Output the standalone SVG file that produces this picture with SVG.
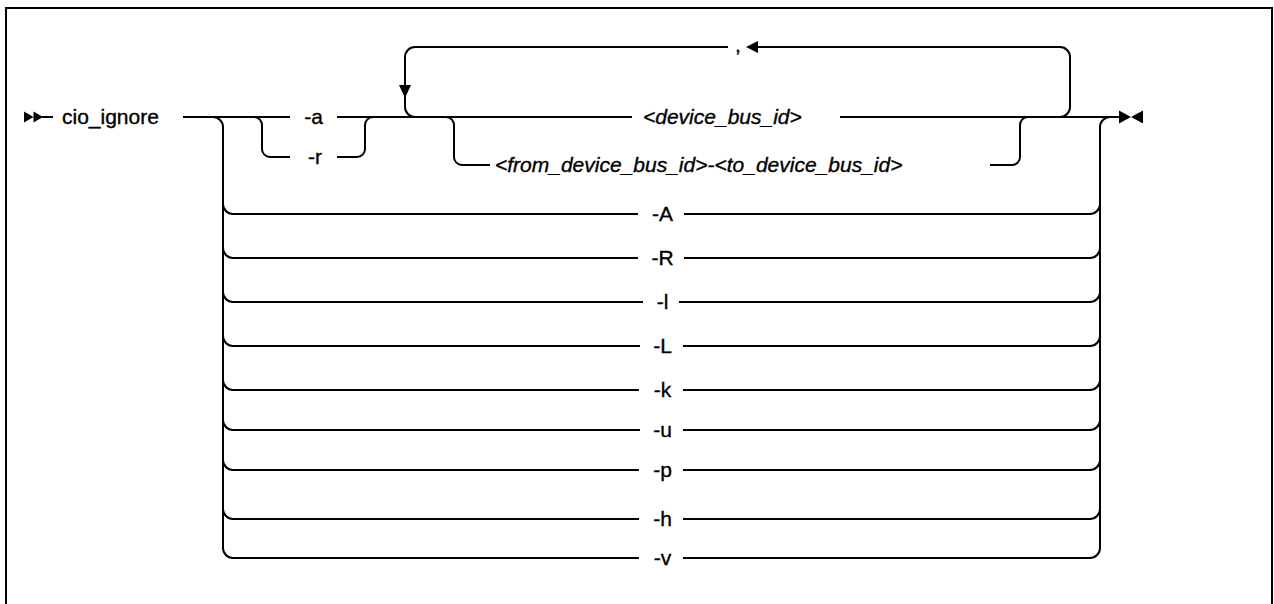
<svg xmlns="http://www.w3.org/2000/svg" width="1274" height="604" viewBox="0 0 1274 604">
<style>
.ln{fill:none;stroke:#000;stroke-width:2}
.t{font-family:"Liberation Sans",Arial,sans-serif;font-size:21px;fill:#000;stroke:#000;stroke-width:0.35}
.it{font-style:italic}
.m{text-anchor:middle}
.hd{fill:#000;stroke:none}
</style>
<rect width="1274" height="604" fill="#fff"/>
<path class="ln" d="M6 604 V8 H1272 V604"/>
<g id="connectors">
  <!-- start / end symbols -->
  <path class="hd" d="M24 111.5 L33.5 117 L24 122.5 Z M33.5 111.5 L43 117 L33.5 122.5 Z"/>
  <path class="ln" d="M42 117 H53"/>
  <path class="hd" d="M1119 110.5 L1131 117 L1119 123.5 Z M1143 110.5 L1131 117 L1143 123.5 Z"/>
  <!-- main line -->
  <path class="ln" d="M183 117 H290 M337 117 H632 M840 117 H1120"/>
  <!-- -r branch -->
  <path class="ln" d="M254 117 A8 8 0 0 1 262 125 V149 A8 8 0 0 0 270 157 H290 M337 157 H357 A8 8 0 0 0 365 149 V125 A8 8 0 0 1 373 117"/>
  <!-- repeat loop -->
  <path class="ln" d="M1060 117 A10 10 0 0 0 1070 107 V57 A10 10 0 0 0 1060 47 H758"/>
  <path class="hd" d="M746 47 L758 41 L758 53 Z"/>
  <path class="ln" d="M728 47 H415 A10 10 0 0 0 405 57 V107 A10 10 0 0 0 415 117"/>
  <path class="hd" d="M399 85 L411 85 L405 98 Z"/>
  <!-- from-to branch -->
  <path class="ln" d="M446 117 A8 8 0 0 1 454 125 V157 A8 8 0 0 0 462 165 H490 M990 165 H1012 A8 8 0 0 0 1020 157 V125 A8 8 0 0 1 1028 117"/>
  <!-- outer option stack -->
  <path class="ln" d="M213 117 A10 10 0 0 1 223 127 V548 A10 10 0 0 0 233 558"/>
  <path class="ln" d="M1100 548 V127 A10 10 0 0 1 1110 117"/>
  <path class="ln" d="
    M223 204 A10 10 0 0 0 233 214 H638 M684 214 H1090 A10 10 0 0 0 1100 204
    M223 248 A10 10 0 0 0 233 258 H638 M684 258 H1090 A10 10 0 0 0 1100 248
    M223 292 A10 10 0 0 0 233 302 H643 M679 302 H1090 A10 10 0 0 0 1100 292
    M223 336 A10 10 0 0 0 233 346 H640 M683 346 H1090 A10 10 0 0 0 1100 336
    M223 380 A10 10 0 0 0 233 390 H639 M683 390 H1090 A10 10 0 0 0 1100 380
    M223 420 A10 10 0 0 0 233 430 H640 M683 430 H1090 A10 10 0 0 0 1100 420
    M223 460 A10 10 0 0 0 233 470 H639 M683 470 H1090 A10 10 0 0 0 1100 460
    M223 509 A10 10 0 0 0 233 519 H639 M683 519 H1090 A10 10 0 0 0 1100 509
    M233 558 H639 M683 558 H1090 A10 10 0 0 0 1100 548"/>
</g>
<g id="cmd"><text class="t" x="62" y="124">cio_ignore</text></g>
<g id="opt-a"><text class="t m" x="313.5" y="124">-a</text></g>
<g id="opt-r"><text class="t m" x="315" y="164">-r</text></g>
<g id="comma"><text class="t" x="735" y="52">,</text></g>
<g id="device"><text class="t it" x="643" y="124">&lt;device_bus_id&gt;</text></g>
<g id="range"><text class="t it" x="495" y="172">&lt;from_device_bus_id&gt;-&lt;to_device_bus_id&gt;</text></g>
<g id="opt-A"><text class="t m" x="662.5" y="221">-A</text></g>
<g id="opt-R"><text class="t m" x="662.5" y="265">-R</text></g>
<g id="opt-l"><text class="t m" x="662.5" y="309">-l</text></g>
<g id="opt-L"><text class="t m" x="662.5" y="353">-L</text></g>
<g id="opt-k"><text class="t m" x="662.5" y="397">-k</text></g>
<g id="opt-u"><text class="t m" x="662.5" y="437">-u</text></g>
<g id="opt-p"><text class="t m" x="662.5" y="477">-p</text></g>
<g id="opt-h"><text class="t m" x="662.5" y="526">-h</text></g>
<g id="opt-v"><text class="t m" x="662.5" y="565">-v</text></g>
</svg>
